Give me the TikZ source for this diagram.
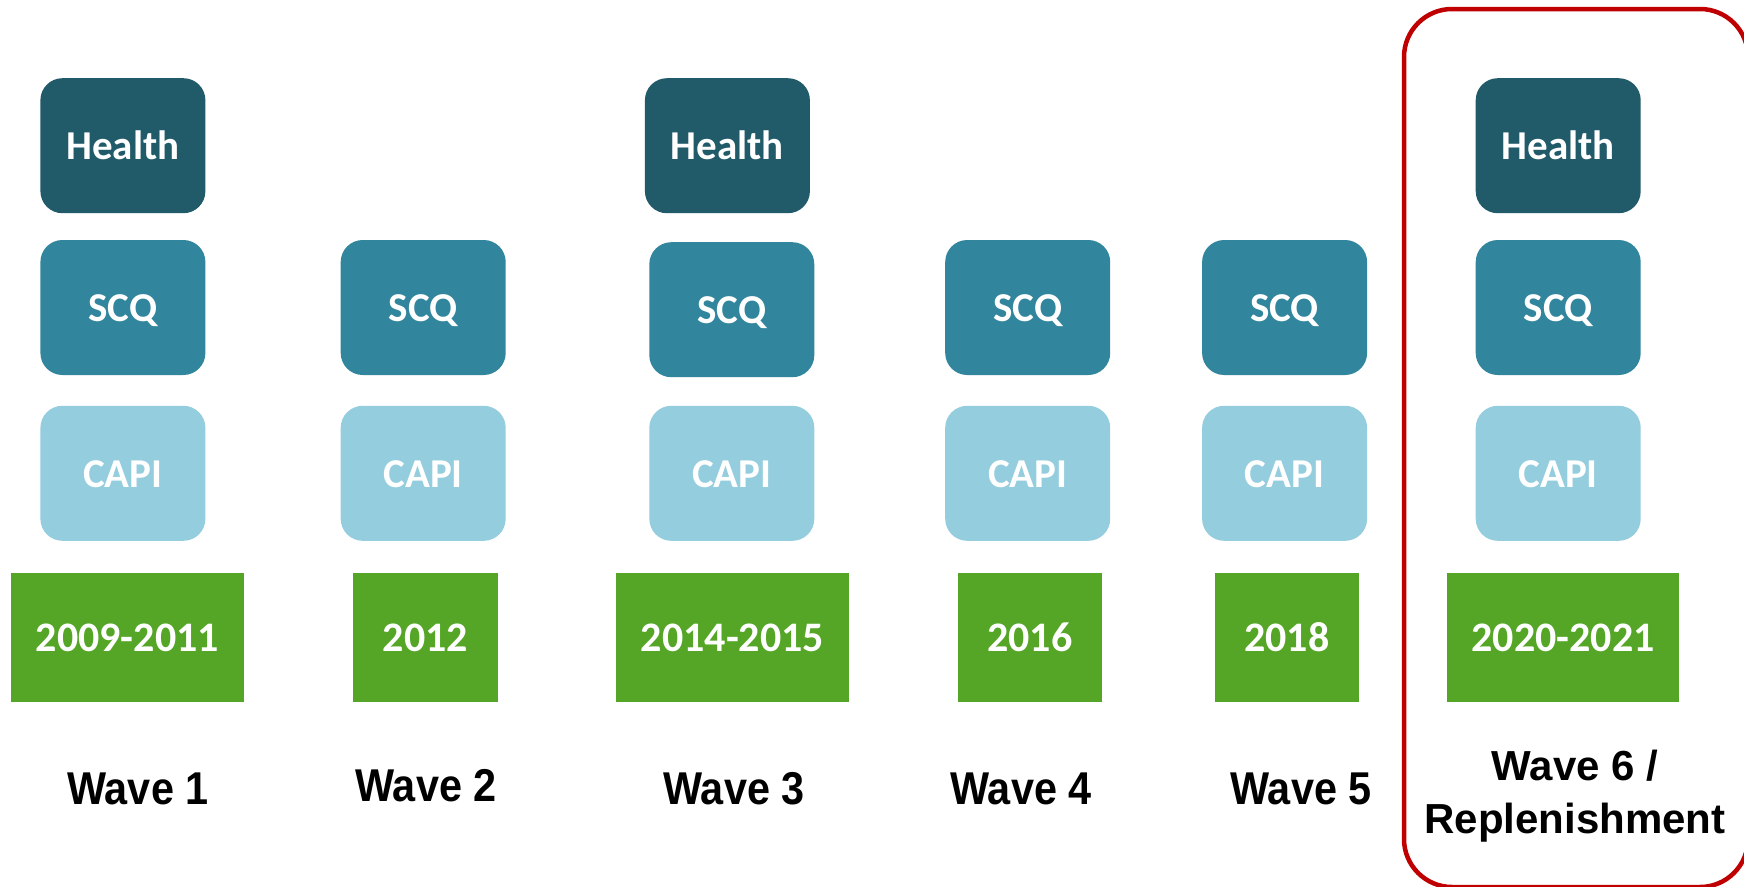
\documentclass[tikz,border=0pt]{standalone}
\usepackage{fontspec}
\setmainfont{Carlito}
\newfontfamily\wavefont{Liberation Sans}
\definecolor{healthc}{HTML}{215A69}
\definecolor{scqc}{HTML}{31869D}
\definecolor{capic}{HTML}{94CDDE}
\definecolor{yearc}{HTML}{55A626}
\definecolor{redc}{HTML}{C00000}
\tikzset{
  mod/.style={rounded corners=22pt, minimum width=165pt, minimum height=135pt, inner sep=0pt,
    text=white, text height=28pt, text depth=0pt, font=\fontsize{41}{44}\selectfont\bfseries},
  healthbox/.style={mod, fill=healthc},
  scqbox/.style={mod, fill=scqc},
  capibox/.style={mod, fill=capic},
  yearbox/.style={fill=yearc, minimum height=129pt, inner sep=0pt, text=white,
    text height=28.5pt, text depth=0pt, font=\fontsize{42}{44}\selectfont\bfseries},
  wavelabel/.style={inner sep=0pt, font=\wavefont\fontsize{46}{50}\selectfont\bfseries},
}
\begin{document}
\begin{tikzpicture}[x=1pt,y=-1pt]
\useasboundingbox (0,0) rectangle (1744,886);
\clip (0,0) rectangle (1744,886);
\fill[white] (0,0) rectangle (1744,886);
% red frame
\draw[redc, line width=4.5pt, rounded corners=48pt] (1404,9) rectangle (1748,887);
% column 1
\node[healthbox] (h1) at (122.9,145.7) {Health};
\node[scqbox] (s1) at (122.9,307.5) {SCQ};
\node[capibox] (c1) at (122.9,473.3) {CAPI};
\node[yearbox, minimum width=232.5pt] (y1) at (127.4,637.3) {2009-2011};
\node[wavelabel] (w1) at (138,788.5) {\scalebox{0.9}[1]{Wave 1}};
% column 2
\node[scqbox] (s2) at (423.2,307.5) {SCQ};
\node[capibox] (c2) at (423.2,473.3) {CAPI};
\node[yearbox, minimum width=145.7pt] (y2) at (425.5,637.3) {2012};
\node[wavelabel] (w2) at (426,786) {\scalebox{0.9}[1]{Wave 2}};
% column 3
\node[healthbox] (h3) at (727.4,145.7) {Health};
\node[scqbox] (s3) at (731.8,309.7) {SCQ};
\node[capibox] (c3) at (731.8,473.3) {CAPI};
\node[yearbox, minimum width=232.4pt] (y3) at (732.4,637.3) {2014-2015};
\node[wavelabel] (w3) at (734,788.5) {\scalebox{0.9}[1]{Wave 3}};
% column 4
\node[scqbox] (s4) at (1027.7,307.5) {SCQ};
\node[capibox] (c4) at (1027.7,473.3) {CAPI};
\node[yearbox, minimum width=144.6pt] (y4) at (1029.9,637.3) {2016};
\node[wavelabel] (w4) at (1021,788.5) {\scalebox{0.9}[1]{Wave 4}};
% column 5
\node[scqbox] (s5) at (1284.6,307.5) {SCQ};
\node[capibox] (c5) at (1284.6,473.3) {CAPI};
\node[yearbox, minimum width=144.6pt] (y5) at (1286.8,637.3) {2018};
\node[wavelabel] (w5) at (1301,788.5) {\scalebox{0.9}[1]{Wave 5}};
% column 6
\node[healthbox] (h6) at (1558.2,145.7) {Health};
\node[scqbox] (s6) at (1558.2,307.5) {SCQ};
\node[capibox] (c6) at (1558.2,473.3) {CAPI};
\node[yearbox, minimum width=232.4pt] (y6) at (1563.2,637.3) {2020-2021};
\node[wavelabel, align=center, font=\wavefont\fontsize{42}{53.4}\selectfont\bfseries] (w6) at (1575,796) {Wave 6 /\\Replenishment};
\end{tikzpicture}
\end{document}
